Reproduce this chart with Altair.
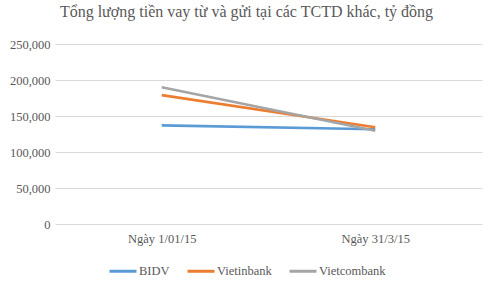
import altair as alt
import pandas as pd

dates = ["Ngày 1/01/15", "Ngày 31/3/15"]
banks = ["BIDV", "Vietinbank", "Vietcombank"]
bidv = [137000, 131500]
vietinbank = [179000, 134300]
vietcombank = [190000, 129600]
colors = ["#5B9BD5", "#ED7D31", "#A5A5A5"]

rows = []
for bank, vals in zip(banks, [bidv, vietinbank, vietcombank]):
    for d, v in zip(dates, vals):
        rows.append({"date": d, "bank": bank, "value": v})
df = pd.DataFrame(rows)

font = "Liberation Serif"

chart = alt.Chart(df).mark_line(strokeWidth=2.6).encode(
    x=alt.X("date:N", sort=dates, title=None,
            scale=alt.Scale(type="point", padding=0.5),
            axis=alt.Axis(labelAngle=0, domain=False, ticks=False, labelPadding=8,
                          labelFont=font, labelFontSize=12.5, labelColor="#595959")),
    y=alt.Y("value:Q", title=None,
            scale=alt.Scale(domain=[0, 250000], nice=False),
            axis=alt.Axis(values=[0, 50000, 100000, 150000, 200000, 250000], format=",.0f",
                          domain=False, ticks=False, labelPadding=5,
                          labelFont=font, labelFontSize=12.5, labelColor="#595959",
                          gridColor="#D9D9D9", gridWidth=1)),
    color=alt.Color("bank:N", sort=banks,
                    scale=alt.Scale(domain=banks, range=colors),
                    legend=alt.Legend(title=None, orient="none", direction="horizontal",
                                      legendX=53, legendY=212,
                                      symbolType="stroke", symbolSize=729, symbolStrokeWidth=3,
                                      labelFont=font, labelFontSize=12.5, labelColor="#595959",
                                      labelOffset=1, columnPadding=11)),
    order=alt.Order("bank:N")
).properties(
    width=427, height=180,
    title=alt.TitleParams("Tổng lượng tiền vay từ và gửi tại các TCTD khác, tỷ đồng",
                          font=font, fontSize=16, fontWeight="normal", color="#595959",
                          anchor="middle", dx=-22, offset=18),
    autosize=alt.AutoSizeParams(type="none"),
    padding={"left": 55, "top": 44, "right": 10, "bottom": 61}
).configure_view(stroke=None)

chart.save("out.html", embed_options={"renderer": "svg", "actions": False})
